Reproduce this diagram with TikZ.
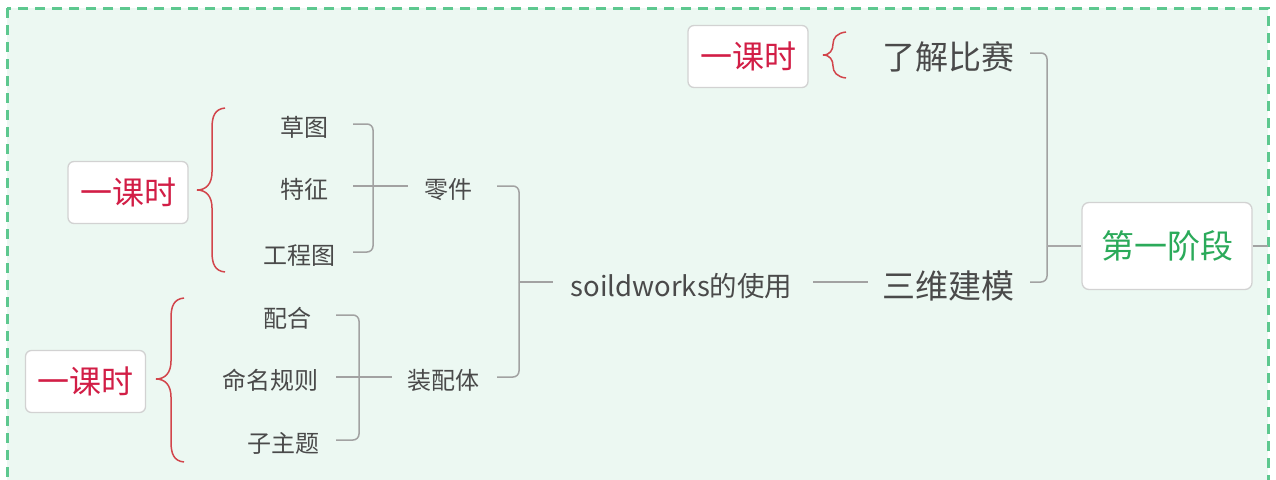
\documentclass[tikz,border=0pt]{standalone}
\usepackage{fontspec}
\newfontfamily\cjk{Noto Sans CJK SC}
\definecolor{bgc}{HTML}{ECF8F2}
\definecolor{dashc}{HTML}{5DC88F}
\definecolor{lgray}{HTML}{A2A2A2}
\definecolor{rgray}{HTML}{A8A8A8}
\definecolor{tgray}{HTML}{4A4A4A}
\definecolor{kred}{HTML}{D21E46}
\definecolor{bred}{HTML}{D2454B}
\definecolor{rgreen}{HTML}{2BAA5A}
\definecolor{boxc}{HTML}{D2D2D2}
\begin{document}
\begin{tikzpicture}[x=1pt,y=-1pt,
  txt/.style={inner sep=0pt, text=tgray, font=\cjk\fontsize{24}{24}\selectfont,
    text depth=0pt, text height=24.2pt},
  midtxt/.style={inner sep=0pt, text=tgray, font=\cjk\fontsize{27.5}{27.5}\selectfont,
    text depth=0pt, text height=28.9pt},
  bigtxt/.style={inner sep=0pt, text=tgray, font=\cjk\fontsize{33}{33}\selectfont,
    text depth=0pt, text height=33.1pt},
  kbox/.style={draw=boxc, line width=1.3pt, fill=white, rounded corners=6pt,
    minimum width=120pt, minimum height=62pt, inner sep=0pt, text=kred,
    font=\cjk\fontsize{32}{32}\selectfont},
  rootbox/.style={draw=boxc, line width=1.3pt, fill=white, rounded corners=7pt,
    minimum width=170pt, minimum height=87pt, inner sep=0pt, text=rgreen,
    font=\cjk\fontsize{33}{33}\selectfont},
  conn/.style={draw=lgray, line width=1.5pt, rounded corners=6pt},
  rootconn/.style={draw=rgray, line width=2.6pt},
  bracestyle/.style={draw=bred, line width=1.5pt},
]
\useasboundingbox (0,0) rectangle (1276,479);
\fill[bgc] (7,8) rectangle (1268,500);
\draw[dashc, line width=3pt, dash pattern=on 10pt off 7pt] (7,8) rectangle (1268,500);

% column coordinates
\coordinate (a1) at (353,0);
\coordinate (v1) at (373,0);
\coordinate (a2) at (408,0);
\coordinate (b1) at (336,0);
\coordinate (v2) at (359,0);
\coordinate (b2) at (392,0);
\coordinate (a3) at (497,0);
\coordinate (v3) at (519,0);
\coordinate (a4) at (553,0);
\coordinate (a5) at (813,0);
\coordinate (a6) at (868,0);
\coordinate (a7) at (1030,0);
\coordinate (v4) at (1047,0);
\coordinate (edge) at (1268,0);

% nodes
\node[txt] (caotu) at (304.5,124) {草图};
\node[txt] (tezheng) at (304.5,186) {特征};
\node[txt] (gongcheng) at (299,252) {工程图};
\node[txt] (lingjian) at (448,186) {零件};
\node[txt] (peihe) at (287.5,315) {配合};
\node[txt] (mingming) at (270,377) {命名规则};
\node[txt] (zizhuti) at (283.5,440) {子主题};
\node[txt] (zhuangpei) at (443.5,377) {装配体};
\node[midtxt] (soild) at (681.5,282) {soildworks的使用};
\node[bigtxt] (sanwei) at (948.5,282) {三维建模};
\node[bigtxt] (liaojie) at (948.5,53) {了解比赛};
\node[rootbox] (root) at (1167,246) {第一阶段};
\node[kbox] (k1) at (748,56.5) {一课时};
\node[kbox] (k2) at (128,192.5) {一课时};
\node[kbox] (k3) at (85.5,381.5) {一课时};

% connectors: 零件
\draw[conn] (caotu -| a1) -| (v1 |- lingjian);
\draw[conn] (gongcheng -| a1) -| (v1 |- lingjian);
\draw[conn] (tezheng -| a1) -- (lingjian -| a2);
% 装配体
\draw[conn] (peihe -| b1) -| (v2 |- zhuangpei);
\draw[conn] (zizhuti -| b1) -| (v2 |- zhuangpei);
\draw[conn] (mingming -| b1) -- (zhuangpei -| b2);
% soildworks
\draw[conn] (lingjian -| a3) -| (v3 |- soild);
\draw[conn] (zhuangpei -| a3) -| (v3 |- soild);
\draw[conn] (v3 |- soild) -- (soild -| a4);
% 三维建模
\draw[conn] (soild -| a5) -- (sanwei -| a6);
% root
\draw[conn] (liaojie -| a7) -| (v4 |- root);
\draw[conn] (sanwei -| a7) -| (v4 |- root);
\draw[rootconn] (v4 |- root) -- (root.west);
\draw[conn] (root.east) -- (root -| edge);

% braces
\draw[bracestyle] (846,32) .. controls (837,33) and (833,38) .. (833,44)
  .. controls (833,50) and (830,55) .. (823,55)
  .. controls (830,55) and (833,60) .. (833,66)
  .. controls (833,72) and (837,77) .. (846,78);
\draw[bracestyle] (225,108) .. controls (215,109) and (212,116) .. (212,128)
  -- (212,172) .. controls (212,184) and (206,190) .. (197,190)
  .. controls (206,190) and (212,196) .. (212,208)
  -- (212,252) .. controls (212,264) and (215,271) .. (225,272);
\draw[bracestyle] (184,298) .. controls (174,299) and (171,306) .. (171,318)
  -- (171,361) .. controls (171,373) and (165,379) .. (156,379)
  .. controls (165,379) and (171,385) .. (171,397)
  -- (171,442) .. controls (171,454) and (174,461) .. (184,462);
\end{tikzpicture}
\end{document}
